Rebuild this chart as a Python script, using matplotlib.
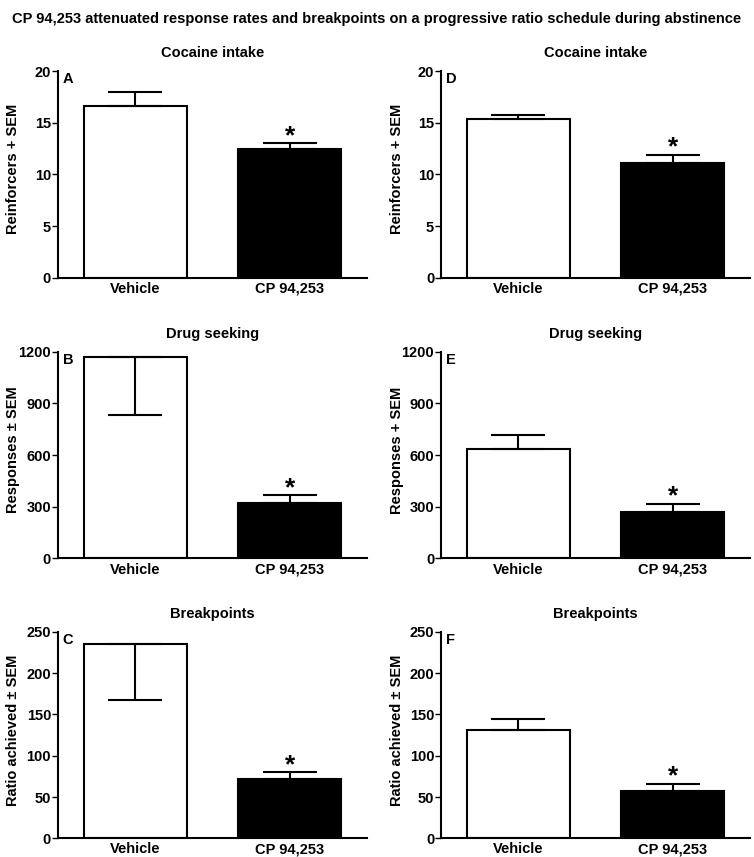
import matplotlib
matplotlib.use("Agg")
import matplotlib.pyplot as plt

plt.rcParams['font.family'] = ['Liberation Sans', 'DejaVu Sans']
plt.rcParams['font.weight'] = 'bold'

groups = ["Vehicle", "CP 94,253"]

# panel values: mean, sem (vehicle, CP 94,253)
intake_A = [16.6, 12.5]
intake_A_sem = [1.4, 0.5]
seeking_B = [1172, 324]
seeking_B_sem = [340, 42]
breaks_C = [235, 72]
breaks_C_sem = [67, 8]
intake_D = [15.35, 11.1]
intake_D_sem = [0.45, 0.8]
seeking_E = [638, 272]
seeking_E_sem = [81, 46]
breaks_F = [131, 57]
breaks_F_sem = [14, 9]

# which direction the vehicle SEM bar is drawn
down_B = True
down_C = True

FS = 10.5

fig = plt.figure(figsize=(7.54, 8.57), dpi=100)
fig.text(0.5, 0.986, "CP 94,253 attenuated response rates and breakpoints on a "
         "progressive ratio schedule during abstinence",
         ha="center", va="top", fontsize=10.5, fontweight="bold")


def panel(rect, vals, sems, title, letter, ylabel, ymax, step, lab_x, veh_down=False):
    ax = fig.add_axes(rect)
    x = [0, 1]
    ax.bar(x, vals, width=0.667, color=["white", "black"],
           edgecolor="black", linewidth=1.5, zorder=2)
    for i in range(2):
        if i == 0 and veh_down:
            err = [[sems[i]], [0]]
        else:
            err = [[0], [sems[i]]]
        ax.errorbar(x[i], vals[i], yerr=err, fmt="none", ecolor="black",
                    elinewidth=1.5, capsize=19.5, capthick=1.5, zorder=3)
    ax.annotate("*", (1, vals[1] + sems[1]), xytext=(0, 0),
                textcoords="offset points", ha="center", va="baseline",
                fontsize=19, fontweight="bold")
    ax.set_xlim(-0.5, 1.5)
    ax.set_ylim(0, ymax)
    ax.set_yticks(range(0, ymax + 1, step))
    ax.set_xticks(x)
    ax.set_xticklabels(groups, fontsize=FS, fontweight="bold")
    ax.tick_params(axis="x", length=0, pad=3)
    ax.tick_params(axis="y", length=4, width=1, labelsize=FS, pad=1)
    for lab in ax.get_yticklabels():
        lab.set_fontweight("bold")
    for s in ["top", "right"]:
        ax.spines[s].set_visible(False)
    for s in ["left", "bottom"]:
        ax.spines[s].set_linewidth(1.5)
    ax.set_title(title, fontsize=FS, fontweight="bold", pad=10)
    ax.set_ylabel(ylabel, fontsize=FS, fontweight="bold")
    ax.yaxis.set_label_coords(lab_x, 0.525)
    ax.text(0.015, 0.995, letter, transform=ax.transAxes, ha="left", va="top",
            fontsize=FS, fontweight="bold")
    return ax


lx, rx, w, h = 0.077, 0.585, 0.41, 0.241
llab, rlab = -0.122, -0.12
panel([lx, 0.676, w, h], intake_A, intake_A_sem, "Cocaine intake", "A",
      "Reinforcers + SEM", 20, 5, llab)
panel([lx, 0.3485, w, h], seeking_B, seeking_B_sem, "Drug seeking", "B",
      "Responses \u00b1 SEM", 1200, 300, llab, down_B)
panel([lx, 0.0218, w, h], breaks_C, breaks_C_sem, "Breakpoints", "C",
      "Ratio achieved \u00b1 SEM", 250, 50, llab, down_C)
panel([rx, 0.676, w, h], intake_D, intake_D_sem, "Cocaine intake", "D",
      "Reinforcers + SEM", 20, 5, rlab)
panel([rx, 0.3485, w, h], seeking_E, seeking_E_sem, "Drug seeking", "E",
      "Responses + SEM", 1200, 300, rlab)
panel([rx, 0.0218, w, h], breaks_F, breaks_F_sem, "Breakpoints", "F",
      "Ratio achieved \u00b1 SEM", 250, 50, rlab)

fig.savefig("out.png", dpi=100)
